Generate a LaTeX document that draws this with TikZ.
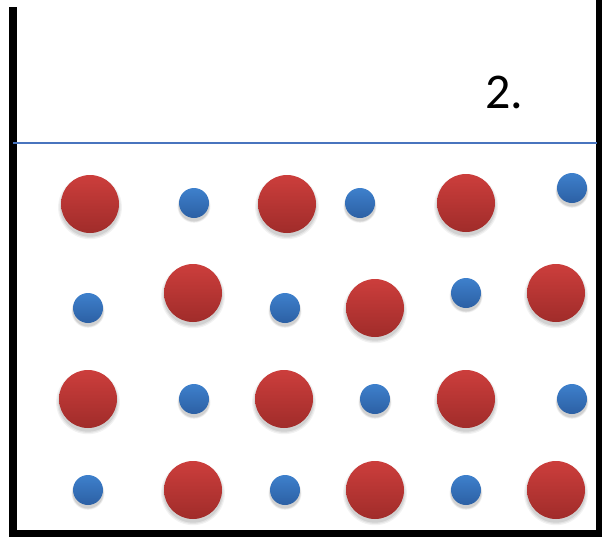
\documentclass[tikz,border=0pt]{standalone}
\usepackage{fontspec}
\setmainfont{Carlito}
\usetikzlibrary{shadows}
\definecolor{redtop}{RGB}{204,62,60}
\definecolor{redbot}{RGB}{160,44,42}
\definecolor{bluetop}{RGB}{62,128,204}
\definecolor{bluebot}{RGB}{44,96,164}
\definecolor{linecol}{RGB}{72,116,190}
\tikzset{
  x=1pt,y=-1pt,
  softshadow/.style={
    general shadow={fill=black,opacity=0.05,shadow scale=1.10,shadow yshift=-3pt},
    general shadow={fill=black,opacity=0.06,shadow scale=1.06,shadow yshift=-3pt},
    general shadow={fill=black,opacity=0.08,shadow scale=1.02,shadow yshift=-3pt}},
  redball/.style={circle,minimum size=58pt,inner sep=0pt,top color=redtop,bottom color=redbot,softshadow},
  blueball/.style={circle,minimum size=30pt,inner sep=0pt,top color=bluetop,bottom color=bluebot,softshadow},
  wall/.style={line width=8pt,black},
}
\begin{document}
\begin{tikzpicture}
\useasboundingbox (0,0) rectangle (602,536);
\clip (0,0) rectangle (602,536);
\fill[white] (0,0) rectangle (602,536);
% walls
\coordinate (tl) at (13,7);
\coordinate (bl) at (13,534);
\coordinate (br) at (600,534);
\coordinate (tr) at (600,0);
\draw[wall] (tl) -- (bl) -- (br) -- (tr);
% surface line
\coordinate (sl) at (13,143);
\coordinate (sr) at (597,143);
\draw[linecol,line width=1.6pt] (sl) -- (sr);
% label
\node (lab) at (504,92) {\fontsize{50}{50}\selectfont 2.};
% row 1
\node[redball] (r11) at (90,204) {};
\node[blueball] (b11) at (194,203) {};
\node[redball] (r12) at (287,204) {};
\node[blueball] (b12) at (360,203) {};
\node[redball] (r13) at (466,203) {};
\node[blueball] (b13) at (572,188) {};
% row 2
\node[blueball] (b21) at (88,308) {};
\node[redball] (r21) at (193,293) {};
\node[blueball] (b22) at (285,308) {};
\node[redball] (r22) at (375,308) {};
\node[blueball] (b23) at (466,293) {};
\node[redball] (r23) at (556,293) {};
% row 3
\node[redball] (r31) at (88,399) {};
\node[blueball] (b31) at (194,399) {};
\node[redball] (r32) at (284,399) {};
\node[blueball] (b32) at (375,399) {};
\node[redball] (r33) at (466,399) {};
\node[blueball] (b33) at (572,399) {};
% row 4
\node[blueball] (b41) at (88,490) {};
\node[redball] (r41) at (193,490) {};
\node[blueball] (b42) at (285,490) {};
\node[redball] (r42) at (375,490) {};
\node[blueball] (b43) at (466,490) {};
\node[redball] (r43) at (556,490) {};
\end{tikzpicture}
\end{document}
